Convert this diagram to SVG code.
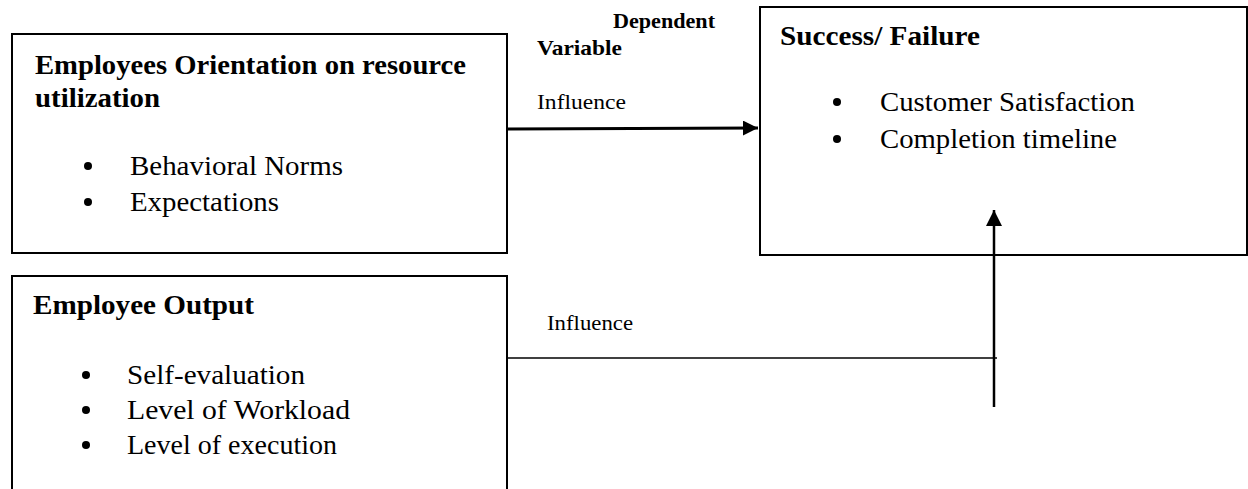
<svg xmlns="http://www.w3.org/2000/svg" width="1248" height="489" viewBox="0 0 1248 489">
<defs>
<style>
.box{fill:#fff;stroke:#000;stroke-width:2}
text{font-family:'Liberation Serif',serif;fill:#000}
.b{font-weight:bold;font-size:27px}
.r{font-size:28px}
.s{font-size:22px}
.sb{font-weight:bold;font-size:21px}
.bul{fill:#000}
</style>
<marker id="ah" viewBox="0 0 10 10" refX="10" refY="5" markerWidth="5" markerHeight="5" markerUnits="strokeWidth" orient="auto">
<path d="M0,0 L10,5 L0,10 Z" fill="#000"/>
</marker>
<marker id="ah2" viewBox="0 0 10 10" refX="10" refY="5" markerWidth="6.5" markerHeight="6.5" markerUnits="strokeWidth" orient="auto">
<path d="M0,0 L10,5 L0,10 Z" fill="#000"/>
</marker>
</defs>
<rect width="1248" height="489" fill="#fff"/>

<g id="node-orientation" font-family="Liberation Serif">
<rect class="box" x="12" y="34" width="495" height="219"/>
<text class="b" x="35" y="74" textLength="431" lengthAdjust="spacingAndGlyphs">Employees Orientation on resource</text>
<text class="b" x="35" y="107" textLength="125" lengthAdjust="spacingAndGlyphs">utilization</text>
<circle class="bul" cx="88" cy="166" r="4"/>
<text class="r" x="130" y="175" textLength="213" lengthAdjust="spacingAndGlyphs">Behavioral Norms</text>
<circle class="bul" cx="88" cy="202" r="4"/>
<text class="r" x="130" y="211" textLength="149" lengthAdjust="spacingAndGlyphs">Expectations</text>
</g>

<g id="node-output" font-family="Liberation Serif">
<rect class="box" x="12" y="276" width="495" height="260"/>
<text class="b" x="33" y="314" textLength="221" lengthAdjust="spacingAndGlyphs">Employee Output</text>
<circle class="bul" cx="86" cy="375" r="4"/>
<text class="r" x="127" y="384" textLength="178" lengthAdjust="spacingAndGlyphs">Self-evaluation</text>
<circle class="bul" cx="86" cy="410" r="4"/>
<text class="r" x="127" y="419" textLength="223" lengthAdjust="spacingAndGlyphs">Level of Workload</text>
<circle class="bul" cx="86" cy="445" r="4"/>
<text class="r" x="127" y="454" textLength="210" lengthAdjust="spacingAndGlyphs">Level of execution</text>
</g>

<g id="node-success" font-family="Liberation Serif">
<rect class="box" x="760" y="7" width="487" height="248"/>
<text class="b" x="780" y="45" textLength="200" lengthAdjust="spacingAndGlyphs">Success/ Failure</text>
<circle class="bul" cx="837" cy="102" r="4"/>
<text class="r" x="880" y="111" textLength="255" lengthAdjust="spacingAndGlyphs">Customer Satisfaction</text>
<circle class="bul" cx="837" cy="139" r="4"/>
<text class="r" x="880" y="148" textLength="237" lengthAdjust="spacingAndGlyphs">Completion timeline</text>
</g>

<g id="labels" font-family="Liberation Serif">
<text class="sb" x="613" y="28" textLength="102" lengthAdjust="spacingAndGlyphs">Dependent</text>
<text class="sb" x="537" y="55" textLength="85" lengthAdjust="spacingAndGlyphs">Variable</text>
<text class="s" x="537" y="109" textLength="89" lengthAdjust="spacingAndGlyphs">Influence</text>
<text class="s" x="547" y="330" textLength="86" lengthAdjust="spacingAndGlyphs">Influence</text>
</g>

<g id="connectors" stroke="#000" fill="none">
<line x1="507" y1="129" x2="758" y2="128" stroke-width="3" marker-end="url(#ah)"/>
<line x1="507" y1="358" x2="997" y2="358" stroke-width="1.5"/>
<line x1="994" y1="407" x2="994" y2="210" stroke-width="2.5" marker-end="url(#ah2)"/>
</g>
</svg>
